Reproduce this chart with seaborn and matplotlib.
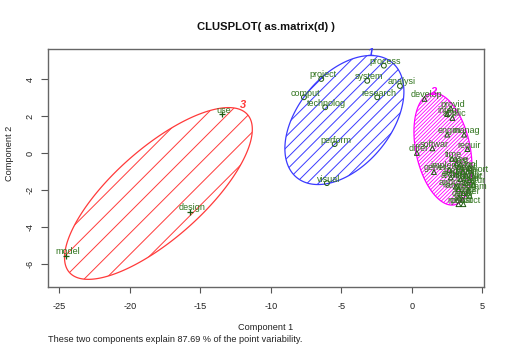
import numpy as np
import pandas as pd
import matplotlib
matplotlib.use("Agg")
import matplotlib.pyplot as plt
from matplotlib.patches import Polygon
import seaborn as sns

# ---------------- data ----------------
words_c1 = ["process", "project", "system", "analysi", "comput", "technolog",
            "research", "perform", "visual"]
pc1_c1 = [-1.99, -6.43, -3.17, -0.85, -7.66, -6.15, -2.46, -5.48, -6.03]
pc2_c1 = [4.74, 4.02, 3.92, 3.64, 3.03, 2.49, 3.03, 0.50, -1.61]

words_c2 = ["develop", "provid", "integr", "applic", "engin", "manag", "softwar",
            "differ", "requir", "gener", "robust", "product", "time", "base",
            "test", "tool", "implement", "specif", "support", "method", "qualiti",
            "evalu", "architectur", "servic", "includ", "featur", "languag",
            "program", "need", "user", "data", "other", "approach"]
pc1_c2 = [0.89, 2.75, 2.50, 2.87, 2.50, 3.70, 1.45, 0.35, 3.93, 1.56, 3.30, 3.65,
          2.85, 3.15, 3.45, 4.10, 2.65, 3.60, 4.25, 3.15, 3.85, 2.75, 3.45, 4.10,
          3.80, 4.35, 3.30, 4.00, 3.65, 4.10, 3.35, 3.60, 3.10]
pc2_c2 = [2.94, 2.43, 2.12, 1.91, 1.01, 1.01, 0.27, 0.02, 0.23, -1.01, -2.75, -2.75,
          -0.30, -0.55, -0.60, -0.80, -0.90, -1.00, -1.10, -1.15, -1.20, -1.30,
          -1.40, -1.45, -1.60, -1.70, -1.95, -2.00, -2.15, -2.30, -2.40, -2.50, -1.80]

words_c3 = ["model", "design", "use"]
pc1_c3 = [-24.56, -15.74, -13.50]
pc2_c3 = [-5.55, -3.16, 2.12]

# cluster ellipses (centre and covariance-like shape matrix, in component units)
ell_cx = [-4.79, 2.20, -17.98]
ell_cy = [1.80, 0.23, -2.17]
ell_sxx = [17.81, 4.23, 44.34]
ell_syy = [12.16, 9.16, 21.55]
ell_sxy = [6.52, -1.93, 23.09]

x_ticks = [-25, -20, -15, -10, -5, 0, 5]
y_ticks = [-6, -4, -2, 0, 2, 4]
title = "CLUSPLOT( as.matrix(d) )"
xlab = "Component 1"
ylab = "Component 2"
footnote = "These two components explain 87.69 % of the point variability."

# ---------------- style ----------------
sns.set_style("white")
plt.rcParams["font.family"] = ["Liberation Sans", "DejaVu Sans"]

TXT = "#2f731c"
PTS = "#1d5a10"

clusters = [
    dict(id=1, words=words_c1, x=pc1_c1, y=pc2_c1, col="#3a3aff", marker="o", spacing=8.0,
         lw=0.7, lab_off=(0.0, 2.0)),
    dict(id=2, words=words_c2, x=pc1_c2, y=pc2_c2, col="#ff00ff", marker="^", spacing=2.6,
         lw=0.6, lab_off=(-0.5, 1.0)),
    dict(id=3, words=words_c3, x=pc1_c3, y=pc2_c3, col="#ff3a3a", marker="+", spacing=15.0,
         lw=0.7, lab_off=(10.0, 2.0)),
]

W, H = 510, 348
fig = plt.figure(figsize=(W / 100, H / 100), dpi=100)
ax = fig.add_axes([48.3 / W, 1 - 286.7 / H, (483.7 - 48.3) / W, (286.7 - 49) / H])
ax.set_xlim(-25.79, 5.09)
ax.set_ylim(-7.21, 5.64)

fig.canvas.draw()
for i, cl in enumerate(clusters):
    c = np.array([ell_cx[i], ell_cy[i]])
    S = np.array([[ell_sxx[i], ell_sxy[i]], [ell_sxy[i], ell_syy[i]]])
    L = np.linalg.cholesky(S)
    t = np.linspace(0, 2 * np.pi, 721)
    bnd = (L @ np.vstack([np.cos(t), np.sin(t)])).T + c
    poly = Polygon(bnd, closed=True, fill=False, edgecolor=cl["col"], lw=0.9, zorder=2)
    ax.add_patch(poly)
    # hatch lines at 45 degrees (screen space), clipped to the ellipse
    disp = ax.transData.transform(bnd)
    k = disp[:, 1] - disp[:, 0]
    s = cl["spacing"] * np.sqrt(2)
    x0, x1 = disp[:, 0].min() - 5, disp[:, 0].max() + 5
    inv = ax.transData.inverted()
    for off in np.arange(k.min() + s / 2, k.max(), s):
        seg = inv.transform([[x0, x0 + off], [x1, x1 + off]])
        ln, = ax.plot(seg[:, 0], seg[:, 1], color=cl["col"], lw=cl["lw"], zorder=1.5)
        ln.set_clip_path(poly)
    # cluster number at the top of the ellipse
    j = np.argmax(disp[:, 1])
    ax.annotate(str(cl["id"]), xy=(bnd[j, 0], bnd[j, 1]), xytext=cl["lab_off"],
                textcoords="offset points", ha="center", va="center", color=cl["col"],
                fontsize=8, fontstyle="italic", fontweight="bold", zorder=5)

    df = pd.DataFrame({"pc1": cl["x"], "pc2": cl["y"]})
    if cl["marker"] == "+":
        sns.scatterplot(data=df, x="pc1", y="pc2", marker="+", color=PTS, s=22,
                        linewidth=0.9, ax=ax, zorder=3)
    else:
        sns.scatterplot(data=df, x="pc1", y="pc2", marker=cl["marker"], s=12,
                        facecolor="none", edgecolor=PTS, linewidth=0.7, ax=ax, zorder=3)
    for w, xx, yy in zip(cl["words"], cl["x"], cl["y"]):
        ax.annotate(w, xy=(xx, yy), xytext=(1.2, 2.9), textcoords="offset points",
                    ha="center", va="center", fontsize=6.5, color=TXT, zorder=4)

ax.set_xlabel("")
ax.set_ylabel("")
ax.set_xticks(x_ticks)
ax.set_yticks(y_ticks)
ax.set_xticklabels([str(v) for v in x_ticks], fontsize=6.6)
ax.set_yticklabels([str(v) for v in y_ticks], fontsize=6.6, rotation=90, va="center")
ax.tick_params(axis="x", length=4.3, width=0.8, color="#555555", pad=6.5, labelcolor="#222222")
ax.tick_params(axis="y", length=5, width=0.8, color="#555555", pad=5, labelcolor="#222222")
ax.tick_params(bottom=True, left=True)
for sp in ax.spines.values():
    sp.set_visible(True)
    sp.set_color("#666666")
    sp.set_linewidth(1.0)

fig.text(265.5 / W, 1 - 26.5 / H, title, ha="center", va="center", fontsize=8.1,
         fontweight="bold", color="#111111")
fig.text(266 / W, 1 - 328 / H, xlab, ha="center", va="center", fontsize=6.6, color="#222222")
fig.text(48.3 / W, 1 - 339.5 / H, footnote, ha="left", va="center", fontsize=6.6, color="#222222")
fig.text(10 / W, 1 - 153 / H, ylab, ha="center", va="center", rotation=90, fontsize=6.6,
         color="#222222")

fig.savefig("out.png", dpi=100)
